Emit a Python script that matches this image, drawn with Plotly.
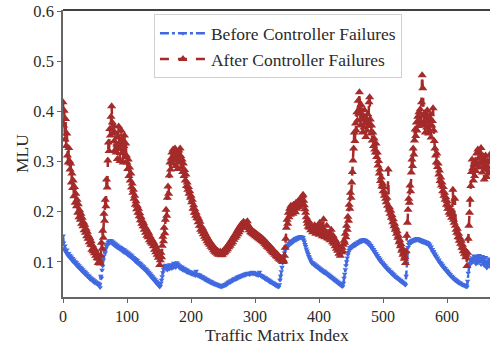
import plotly.graph_objects as go

after_mlu = [
0.418,0.372,0.401,0.344,0.385,0.331,0.356,0.312,0.298,0.327,
0.301,0.284,0.296,0.258,0.276,0.247,0.262,0.231,0.249,0.218,
0.236,0.211,0.224,0.198,0.215,0.189,0.203,0.184,0.196,0.176,
0.188,0.171,0.179,0.163,0.174,0.158,0.166,0.151,0.160,0.146,
0.152,0.139,0.147,0.134,0.141,0.124,0.133,0.121,0.128,0.117,
0.123,0.112,0.118,0.107,0.113,0.098,0.106,0.101,0.097,0.112,
0.138,0.126,0.162,0.148,0.196,0.182,0.224,0.211,0.264,0.248,
0.302,0.338,0.321,0.365,0.352,0.389,0.410,0.378,0.356,0.372,
0.341,0.322,0.357,0.318,0.334,0.305,0.348,0.370,0.326,0.301,
0.339,0.362,0.317,0.344,0.298,0.331,0.352,0.309,0.336,0.312,
0.298,0.285,0.304,0.271,0.288,0.262,0.276,0.248,0.256,0.238,
0.244,0.226,0.232,0.214,0.221,0.205,0.212,0.198,0.206,0.191,
0.197,0.183,0.189,0.176,0.182,0.171,0.177,0.164,0.170,0.158,
0.166,0.152,0.161,0.149,0.157,0.143,0.151,0.139,0.146,0.136,
0.142,0.131,0.138,0.124,0.133,0.119,0.127,0.114,0.121,0.108,
0.112,0.094,0.103,0.118,0.109,0.132,0.150,0.141,0.168,0.157,
0.184,0.204,0.192,0.228,0.250,0.236,0.272,0.298,0.284,0.306,
0.318,0.296,0.324,0.305,0.312,0.326,0.291,0.318,0.302,0.285,
0.309,0.322,0.298,0.326,0.311,0.288,0.304,0.279,0.296,0.271,
0.283,0.262,0.274,0.251,0.258,0.244,0.249,0.236,0.241,0.228,
0.232,0.219,0.224,0.206,0.213,0.198,0.205,0.192,0.198,0.187,
0.191,0.179,0.186,0.172,0.180,0.164,0.171,0.160,0.167,0.155,
0.162,0.150,0.157,0.146,0.152,0.141,0.147,0.137,0.143,0.134,
0.139,0.130,0.135,0.127,0.132,0.123,0.129,0.120,0.126,0.118,
0.123,0.116,0.121,0.114,0.119,0.115,0.120,0.113,0.118,0.114,
0.121,0.117,0.124,0.119,0.127,0.122,0.130,0.125,0.133,0.129,
0.137,0.132,0.141,0.136,0.145,0.139,0.149,0.144,0.153,0.148,
0.157,0.151,0.162,0.155,0.166,0.159,0.170,0.163,0.174,0.168,
0.177,0.169,0.180,0.172,0.176,0.168,0.178,0.171,0.181,0.174,
0.170,0.163,0.167,0.159,0.164,0.157,0.162,0.155,0.160,0.153,
0.158,0.151,0.156,0.149,0.154,0.147,0.152,0.145,0.150,0.143,
0.148,0.141,0.146,0.139,0.143,0.136,0.141,0.133,0.138,0.130,
0.135,0.128,0.132,0.125,0.130,0.122,0.127,0.119,0.124,0.117,
0.121,0.114,0.118,0.111,0.116,0.109,0.113,0.106,0.110,0.104,
0.108,0.102,0.106,0.100,0.104,0.101,0.112,0.128,0.146,0.168,
0.184,0.176,0.198,0.189,0.206,0.194,0.212,0.201,0.208,0.196,
0.214,0.203,0.211,0.199,0.218,0.206,0.213,0.221,0.209,0.216,
0.224,0.212,0.228,0.219,0.231,0.234,0.222,0.213,0.205,0.198,
0.189,0.182,0.176,0.170,0.181,0.168,0.174,0.163,0.172,0.166,
0.159,0.168,0.161,0.173,0.164,0.156,0.166,0.158,0.171,0.162,
0.154,0.178,0.163,0.157,0.168,0.151,0.162,0.185,0.158,0.149,
0.161,0.153,0.172,0.147,0.158,0.146,0.155,0.143,0.151,0.164,
0.148,0.139,0.152,0.136,0.146,0.131,0.142,0.126,0.137,0.122,
0.131,0.116,0.127,0.112,0.124,0.119,0.128,0.121,0.134,0.142,
0.138,0.156,0.149,0.172,0.164,0.190,0.182,0.214,0.206,0.238,
0.228,0.258,0.279,0.302,0.326,0.358,0.341,0.376,0.362,0.398,
0.382,0.421,0.395,0.438,0.406,0.372,0.412,0.384,0.358,0.391,
0.368,0.402,0.376,0.349,0.386,0.362,0.394,0.371,0.418,0.428,
0.384,0.356,0.372,0.342,0.358,0.331,0.346,0.324,0.318,0.336,
0.309,0.318,0.292,0.301,0.276,0.284,0.261,0.268,0.250,0.256,
0.241,0.249,0.232,0.238,0.226,0.219,0.228,0.212,0.284,0.204,
0.209,0.196,0.202,0.188,0.193,0.179,0.185,0.171,0.176,0.164,
0.168,0.156,0.161,0.148,0.152,0.139,0.143,0.131,0.135,0.122,
0.126,0.114,0.118,0.106,0.110,0.098,0.121,0.152,0.178,0.204,
0.226,0.218,0.252,0.241,0.278,0.304,0.291,0.326,0.314,0.342,
0.364,0.351,0.378,0.362,0.389,0.371,0.398,0.382,0.404,0.376,
0.418,0.472,0.446,0.392,0.372,0.396,0.358,0.384,0.368,0.402,
0.374,0.356,0.388,0.362,0.394,0.348,0.372,0.381,0.406,0.362,
0.341,0.326,0.312,0.298,0.316,0.289,0.296,0.274,0.282,0.261,
0.268,0.252,0.258,0.241,0.249,0.232,0.238,0.224,0.229,0.214,
0.221,0.206,0.212,0.198,0.206,0.194,0.201,0.188,0.196,0.244,
0.184,0.178,0.226,0.172,0.164,0.158,0.166,0.149,0.156,0.142,
0.148,0.136,0.142,0.128,0.134,0.121,0.127,0.116,0.122,0.109,
0.114,0.092,0.118,0.146,0.172,0.198,0.224,0.251,0.279,0.304,
0.286,0.262,0.294,0.271,0.302,0.281,0.316,0.292,0.324,0.306,
0.288,0.318,0.296,0.327,0.302,0.278,0.311,0.289,0.264,0.298,
0.312,0.284,0.269,0.301,0.288,0.276,0.298,0.314,
]

before_mlu = [
0.152,0.138,0.126,0.132,0.121,0.118,0.124,0.115,0.112,0.117,
0.109,0.113,0.106,0.110,0.103,0.107,0.100,0.104,0.098,0.101,
0.095,0.099,0.092,0.096,0.089,0.093,0.087,0.090,0.084,0.088,
0.081,0.085,0.079,0.082,0.076,0.080,0.074,0.077,0.071,0.074,
0.069,0.072,0.066,0.069,0.064,0.067,0.062,0.065,0.060,0.063,
0.058,0.061,0.057,0.059,0.055,0.058,0.054,0.056,0.049,0.072,
0.068,0.084,0.092,0.104,0.112,0.121,0.118,0.127,0.131,0.136,
0.134,0.139,0.141,0.137,0.143,0.139,0.142,0.136,0.140,0.134,
0.138,0.132,0.136,0.130,0.134,0.128,0.132,0.127,0.130,0.125,
0.129,0.123,0.127,0.121,0.125,0.119,0.124,0.118,0.122,0.116,
0.120,0.114,0.118,0.112,0.116,0.110,0.114,0.108,0.112,0.106,
0.109,0.104,0.107,0.101,0.105,0.099,0.103,0.097,0.100,0.095,
0.098,0.092,0.096,0.090,0.093,0.088,0.091,0.085,0.088,0.083,
0.086,0.080,0.083,0.077,0.080,0.074,0.077,0.071,0.074,0.068,
0.071,0.065,0.068,0.062,0.065,0.059,0.062,0.056,0.059,0.053,
0.055,0.050,0.052,0.058,0.064,0.071,0.079,0.086,0.092,0.088,
0.094,0.086,0.091,0.084,0.089,0.093,0.086,0.095,0.088,0.092,
0.087,0.094,0.089,0.098,0.091,0.096,0.089,0.093,0.099,0.092,
0.096,0.090,0.093,0.087,0.091,0.086,0.090,0.084,0.088,0.083,
0.087,0.082,0.085,0.080,0.084,0.079,0.082,0.078,0.081,0.077,
0.080,0.076,0.079,0.075,0.078,0.074,0.077,0.073,0.082,0.074,
0.076,0.072,0.075,0.071,0.074,0.070,0.072,0.068,0.071,0.067,
0.069,0.065,0.068,0.064,0.066,0.062,0.065,0.061,0.063,0.060,
0.062,0.058,0.061,0.057,0.059,0.056,0.058,0.055,0.057,0.054,
0.056,0.053,0.055,0.052,0.054,0.051,0.053,0.050,0.052,0.051,
0.053,0.052,0.055,0.053,0.056,0.054,0.058,0.056,0.060,0.058,
0.061,0.059,0.063,0.061,0.064,0.062,0.066,0.064,0.067,0.065,
0.068,0.066,0.070,0.067,0.071,0.069,0.072,0.070,0.073,0.071,
0.074,0.072,0.075,0.073,0.076,0.074,0.077,0.075,0.078,0.076,
0.077,0.075,0.078,0.076,0.079,0.077,0.080,0.076,0.079,0.077,
0.078,0.075,0.077,0.074,0.076,0.073,0.075,0.080,0.074,0.072,
0.073,0.070,0.072,0.069,0.070,0.067,0.069,0.065,0.067,0.064,
0.065,0.062,0.064,0.060,0.062,0.059,0.060,0.057,0.059,0.056,
0.057,0.054,0.056,0.052,0.054,0.051,0.053,0.050,0.055,0.064,
0.072,0.081,0.090,0.098,0.106,0.112,0.118,0.123,0.127,0.131,
0.128,0.134,0.131,0.137,0.134,0.139,0.136,0.141,0.138,0.143,
0.140,0.145,0.142,0.147,0.143,0.148,0.145,0.149,0.146,0.150,
0.147,0.151,0.148,0.150,0.146,0.149,0.144,0.140,0.135,0.131,
0.126,0.122,0.118,0.115,0.111,0.108,0.105,0.102,0.100,0.097,
0.099,0.095,0.097,0.093,0.095,0.091,0.093,0.089,0.091,0.087,
0.089,0.085,0.087,0.083,0.085,0.081,0.083,0.079,0.082,0.078,
0.080,0.076,0.078,0.074,0.076,0.072,0.074,0.070,0.072,0.068,
0.070,0.066,0.068,0.064,0.066,0.062,0.064,0.060,0.062,0.058,
0.060,0.056,0.058,0.054,0.056,0.052,0.054,0.051,0.058,0.068,
0.076,0.085,0.093,0.101,0.108,0.114,0.119,0.123,0.126,0.129,
0.127,0.131,0.129,0.133,0.131,0.135,0.132,0.137,0.134,0.138,
0.136,0.140,0.137,0.141,0.139,0.143,0.140,0.144,0.141,0.145,
0.142,0.144,0.140,0.143,0.139,0.141,0.137,0.139,0.134,0.136,
0.131,0.133,0.128,0.129,0.124,0.125,0.120,0.121,0.116,0.117,
0.112,0.113,0.108,0.109,0.104,0.106,0.101,0.102,0.098,0.099,
0.095,0.096,0.092,0.093,0.089,0.090,0.086,0.087,0.083,0.085,
0.081,0.082,0.078,0.080,0.076,0.077,0.073,0.075,0.071,0.072,
0.069,0.070,0.067,0.068,0.065,0.066,0.063,0.064,0.061,0.062,
0.059,0.060,0.057,0.058,0.055,0.054,0.072,0.098,0.118,0.129,
0.135,0.139,0.136,0.141,0.138,0.143,0.140,0.144,0.141,0.145,
0.142,0.146,0.143,0.147,0.144,0.146,0.142,0.145,0.141,0.144,
0.140,0.143,0.139,0.142,0.138,0.141,0.137,0.140,0.136,0.139,
0.135,0.137,0.132,0.134,0.128,0.130,0.124,0.125,0.119,0.121,
0.115,0.116,0.111,0.112,0.107,0.108,0.103,0.104,0.099,0.100,
0.096,0.097,0.092,0.094,0.089,0.090,0.086,0.087,0.083,0.084,
0.080,0.081,0.077,0.078,0.074,0.075,0.071,0.072,0.069,0.070,
0.066,0.067,0.064,0.065,0.062,0.063,0.060,0.061,0.058,0.059,
0.057,0.058,0.055,0.056,0.054,0.055,0.053,0.054,0.052,0.051,
0.053,0.050,0.062,0.078,0.091,0.098,0.104,0.097,0.106,0.099,
0.108,0.101,0.112,0.103,0.109,0.096,0.104,0.111,0.098,0.106,
0.113,0.102,0.108,0.095,0.104,0.111,0.099,0.107,0.093,0.102,
0.109,0.097,0.088,0.101,0.094,0.106,0.098,0.091,
]

x_ticks = [0, 100, 200, 300, 400, 500, 600]
y_ticks = [0.1, 0.2, 0.3, 0.4, 0.5, 0.6]
x_before = list(range(len(before_mlu)))
x_after = list(range(len(after_mlu)))

FONT = "Liberation Serif, DejaVu Serif, serif"
TXT = "#2b2b2b"

fig = go.Figure()
fig.add_trace(go.Scatter(
    x=x_before, y=before_mlu, mode="lines+markers",
    name="Before Controller Failures",
    line=dict(color="#4169E1", width=2.5, dash="dashdot"),
    marker=dict(symbol="triangle-down", size=5, color="#4169E1"),
))
fig.add_trace(go.Scatter(
    x=x_after, y=after_mlu, mode="lines+markers",
    name="After Controller Failures",
    line=dict(color="#A52A2A", width=2.5, dash="dash"),
    marker=dict(symbol="triangle-up", size=8, color="#A52A2A"),
))

fig.update_layout(
    width=490, height=344,
    margin=dict(l=63, r=0, t=10, b=47),
    paper_bgcolor="white", plot_bgcolor="white",
    font=dict(family=FONT, size=16, color=TXT),
    showlegend=True,
    legend=dict(
        x=0.213, y=0.985, xanchor="left", yanchor="top",
        bgcolor="rgba(255,255,255,0.85)", bordercolor="#d0d0d0", borderwidth=1,
        font=dict(family=FONT, size=17.5, color=TXT),
        itemwidth=46, tracegroupgap=0,
    ),
    xaxis=dict(
        range=[0, 667], tickvals=x_ticks, ticktext=[str(v) for v in x_ticks],
        showgrid=False, zeroline=False, showline=True, linecolor="#666666", linewidth=1.5,
        ticks="outside", ticklen=4, tickcolor="#666666",
        tickfont=dict(family=FONT, size=16, color=TXT),
    ),
    yaxis=dict(
        range=[0.03, 0.602], tickvals=y_ticks, ticktext=[f"{v:.1f}" for v in y_ticks],
        showgrid=False, zeroline=False, showline=True, linecolor="#666666", linewidth=1.5,
        ticks="outside", ticklen=4, tickcolor="#666666",
        tickfont=dict(family=FONT, size=16.5, color=TXT),
        title=dict(text="MLU", font=dict(family=FONT, size=17.5, color=TXT), standoff=0),
    ),
)
fig.add_annotation(text="Traffic Matrix Index", xref="paper", yref="paper",
                   x=0.5, y=-0.09, xanchor="center", yanchor="top", showarrow=False,
                   font=dict(family=FONT, size=17.5, color=TXT))
fig.add_shape(type="line", xref="paper", yref="paper", x0=0, x1=1, y0=1, y1=1,
              line=dict(color="black", width=1.5))

fig.write_html("out.html")
